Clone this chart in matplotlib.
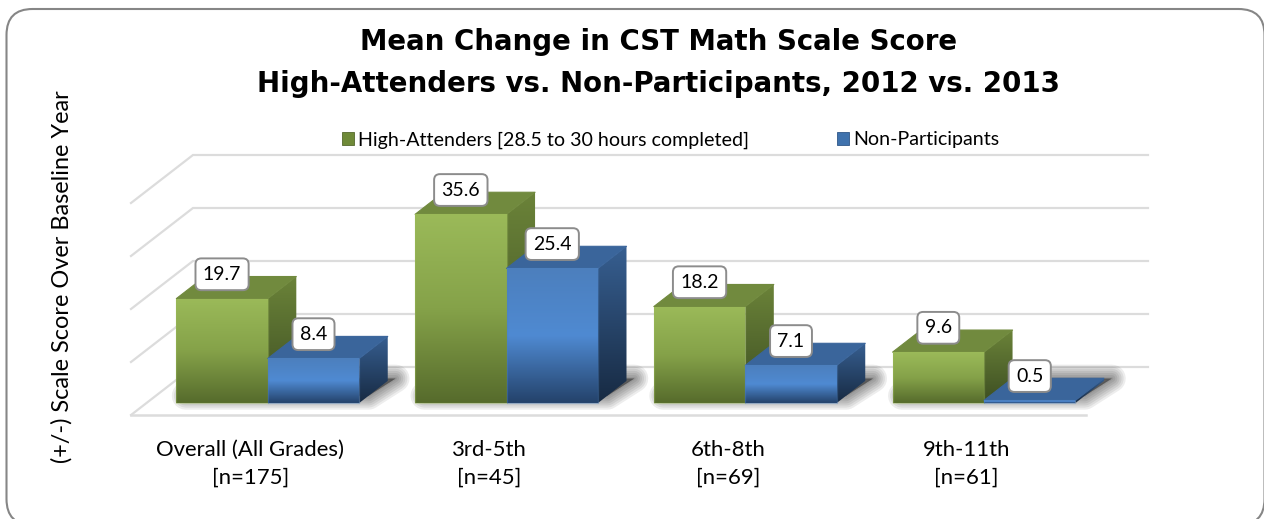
import numpy as np
import matplotlib
matplotlib.use('Agg')
import matplotlib.pyplot as plt
from matplotlib.colors import LinearSegmentedColormap
from matplotlib.patches import FancyBboxPatch, Patch, Polygon
from matplotlib.transforms import IdentityTransform

title = 'Mean Change in CST Math Scale Score\nHigh-Attenders vs. Non-Participants, 2012 vs. 2013'
y_label = '(+/-) Scale Score Over Baseline Year'
categories = ['Overall (All Grades)', '3rd-5th', '6th-8th', '9th-11th']
group_sizes = ['[n=175]', '[n=45]', '[n=69]', '[n=61]']
series_names = ['High-Attenders [28.5 to 30 hours completed]', 'Non-Participants']
high_attenders = [19.7, 35.6, 18.2, 9.6]
non_participants = [8.4, 25.4, 7.1, 0.5]
grid_values = [0, 10, 20, 30, 40]

W, H = 1264, 519
# pixel geometry of the fake 3D box
X0, FLOOR_Y = 131, 415
CAT_PX, VAL_PX = 238.75, 5.3
DEPTH_X, DEPTH_Y = 62, 48
BAR_W = 0.383
BAR_SHIFT = 0.008
D_FRONT, D_BACK = 0.25, 0.71

GREEN = {'front': ['#9bba59', '#85a249', '#566b2c'], 'side': ['#6b8339', '#3d4e22'],
         'top': '#718a3e', 'legend': '#6f8a38'}
BLUE = {'front': ['#4c7fbd', '#4f8ad2', '#24426a'], 'side': ['#375f91', '#172a42'],
        'top': '#3a659b', 'legend': '#3f72ad'}

plt.rcParams['font.family'] = ['Lato', 'DejaVu Sans']


def project(x, v, d):
    # oblique projection: depth moves a point right and up in data units
    return x + d * DEPTH_X / CAT_PX, v + d * DEPTH_Y / VAL_PX


def gradient_face(ax, pts, colors, z):
    poly = Polygon(pts, closed=True, transform=ax.transData, fc='none', ec='none')
    cmap = LinearSegmentedColormap.from_list('face', colors)
    xs = [p[0] for p in pts]
    ys = [p[1] for p in pts]
    grad = np.linspace(0, 1, 256).reshape(-1, 1)
    im = ax.imshow(grad, cmap=cmap, aspect='auto', origin='upper', interpolation='bilinear',
                   extent=[min(xs), max(xs), min(ys), max(ys)], zorder=z)
    im.set_clip_path(poly)


def draw_shadow(ax, x, width):
    pts = [project(x, 0, D_FRONT + 0.15), project(x + width, 0, D_FRONT + 0.15),
           project(x + width + 0.02, 0, D_BACK + 0.05), project(x + 0.02, 0, D_BACK + 0.05)]
    for lw in [20, 17, 14, 11, 8, 5, 2]:
        ax.add_patch(Polygon(pts, closed=True, fc='black', ec='black', lw=lw, alpha=0.07,
                             joinstyle='round', zorder=2))


def draw_bar(ax, x, v, pal, z):
    x1 = x + BAR_W
    front = [project(x, v, D_FRONT), project(x1, v, D_FRONT),
             project(x1, 0, D_FRONT), project(x, 0, D_FRONT)]
    side = [project(x1, v, D_FRONT), project(x1, v, D_BACK),
            project(x1, 0, D_BACK), project(x1, 0, D_FRONT)]
    top = [project(x, v, D_FRONT), project(x, v, D_BACK),
           project(x1, v, D_BACK), project(x1, v, D_FRONT)]
    gradient_face(ax, side, pal['side'], z)
    ax.add_patch(Polygon(top, closed=True, fc=pal['top'], ec=pal['top'], lw=0.8,
                         joinstyle='round', zorder=z + 0.1))
    gradient_face(ax, front, pal['front'], z + 0.2)
    ax.add_patch(Polygon(front, closed=True, fc='none', ec=pal['front'][0], lw=0.9, alpha=0.4,
                         joinstyle='round', zorder=z + 0.3))


def add_value_label(ax, x, v):
    px, py = project(x + BAR_W / 2, v, D_FRONT)
    ax.annotate(f'{v}', (px, py), xytext=(0, 17.5), textcoords='offset points',
                ha='center', va='center', fontsize=14, color='black', zorder=50,
                bbox=dict(boxstyle='round,pad=0.38,rounding_size=0.3', fc='white',
                          ec='#8c8c8c', lw=1.4))


def main():
    fig = plt.figure(figsize=(W / 100, H / 100), dpi=100, facecolor='white')
    ax = fig.add_axes([0, 0, 1, 1])
    ax.axis('off')

    grid_c = '#dcdcdc'
    n = len(categories)
    for v in grid_values:
        bx, by = project(0, v, 1)
        ex, ey = project(n, v, 1)
        fx, fy = project(0, v, 0)
        ax.plot([fx, bx, ex], [fy, by, ey], color=grid_c, lw=1.6, zorder=1, solid_joinstyle='miter')
    fx, fy = project(0, 0, 0)
    ex, ey = project(n, 0, 0)
    ax.plot([fx, ex], [fy, ey], color=grid_c, lw=1.8, zorder=1)

    z = 3
    for i in range(n):
        x = i + 0.5 - BAR_W + BAR_SHIFT
        draw_shadow(ax, x, 2 * BAR_W)
        draw_bar(ax, x, high_attenders[i], GREEN, z)
        draw_bar(ax, x + BAR_W, non_participants[i], BLUE, z + 1)
        z += 2
        add_value_label(ax, x, high_attenders[i])
        add_value_label(ax, x + BAR_W, non_participants[i])
        ax.text(i + 0.5, -(463.5 - FLOOR_Y) / VAL_PX, categories[i] + '\n' + group_sizes[i],
                ha='center', va='center', fontsize=15.9, color='black', linespacing=1.5)

    ax.set_xlim(-X0 / CAT_PX, (W - X0) / CAT_PX)
    ax.set_ylim(-(H - FLOOR_Y) / VAL_PX, FLOOR_Y / VAL_PX)

    handles = [Patch(fc=GREEN['legend'], ec='#55692c', lw=0.6, label=series_names[0]),
               Patch(fc=BLUE['legend'], ec='#2f5788', lw=0.6, label=series_names[1])]
    ax.legend(handles=handles, loc='center', bbox_to_anchor=(670.5 / W, 1 - 140 / H), ncol=2,
              frameon=False, fontsize=14.15, handlelength=0.65, handleheight=0.65,
              handletextpad=0.2, columnspacing=4.45, labelcolor='black')

    fig.text(658.5 / W, 1 - 63 / H, title, ha='center', va='center', family='DejaVu Sans',
             fontweight='bold', fontsize=19.9, linespacing=1.65, color='black')
    fig.text(62 / W, 1 - 276.5 / H, y_label, rotation=90, ha='center', va='center',
             fontsize=16.9, color='black')

    # chart border runs off the bottom and right of the picture
    fig.add_artist(FancyBboxPatch((6.5, H - 525), 1258, 516,
                                  boxstyle='round,pad=0,rounding_size=26',
                                  transform=IdentityTransform(), fc='none', ec='#868686', lw=1.5))

    fig.savefig('out.png', dpi=100)


if __name__ == '__main__':
    main()
